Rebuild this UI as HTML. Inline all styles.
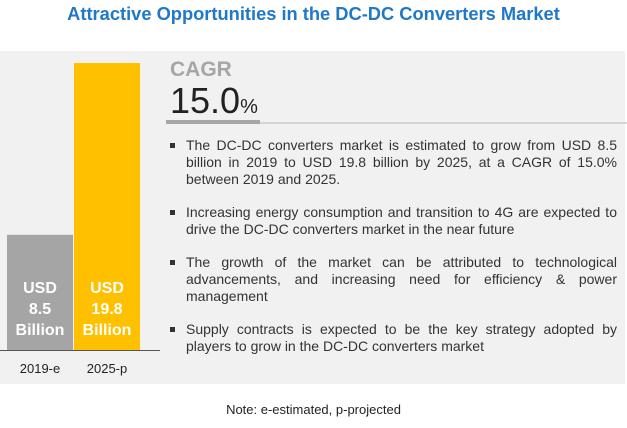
<!DOCTYPE html>
<html><head><meta charset="utf-8"><style>
body{margin:0;width:627px;height:428px;background:#fff;position:relative;overflow:hidden;font-family:"Liberation Sans",sans-serif}
.a{position:absolute}
#title{left:0;width:627px;top:3px;text-align:center;color:#1f78c8;font-weight:bold;font-size:18.3px}
#panel{left:0;top:51px;width:625px;height:333px;background:#f1f1f1}
ul{position:absolute;left:168px;top:137px;width:449px;margin:0;padding:0;list-style:none;font-size:14px;line-height:17px;color:#333;text-align:justify}
li{position:relative;padding-left:18px;margin-bottom:16px}
li::before{content:"";position:absolute;left:2px;top:6px;width:5px;height:5px;background:#333}
</style></head><body>
<div class="a" id="title">Attractive Opportunities in the DC-DC Converters Market</div>
<div class="a" id="panel"></div>
<svg class="a" style="left:0;top:0" width="627" height="428" id="chart"></svg>
<div class="a" style="left:170px;top:58px;font-size:21px;font-weight:bold;color:#a6a6a6">CAGR</div>
<div class="a" style="left:170px;top:80px;font-size:36px;color:#222">15.0<span style="font-size:20px">%</span></div>
<div class="a" style="left:166px;top:122px;width:461px;height:2px;background:#d4d4d4"></div>
<div class="a" style="left:166px;top:120px;width:94px;height:4px;background:#a6a6a6"></div>
<ul>
<li>The DC-DC converters market is estimated to grow from USD 8.5 billion in 2019 to USD 19.8 billion by 2025, at a CAGR of 15.0% between 2019 and 2025.</li>
<li>Increasing energy consumption and transition to 4G are expected to drive the DC-DC converters market in the near future</li>
<li>The growth of the market can be attributed to technological advancements, and increasing need for efficiency &amp; power management</li>
<li>Supply contracts is expected to be the key strategy adopted by players to grow in the DC-DC converters market</li>
</ul>
<div class="a" style="left:0;width:627px;top:402px;text-align:center;font-size:13px;color:#222">Note: e-estimated, p-projected</div>
<script>
const categories=["2019-e","2025-p"];
const values=[8.5,19.8];
const valueLabels=["8.5","19.8"];
const colors=["#a5a5a5","#ffc000"];
const svg=document.getElementById('chart');
const NS="http://www.w3.org/2000/svg";
const base=350;
function yH(v){return v*15.2-14;}
function xL(i){return 7+i*67;}
const bw=66;
function mk(t,a){const e=document.createElementNS(NS,t);for(const k in a)e.setAttribute(k,a[k]);svg.appendChild(e);return e;}
categories.forEach((c,i)=>{
  const h=yH(values[i]);
  const r=mk('rect',{x:xL(i),y:base-h,width:bw,height:h,fill:colors[i]});
  
  
  const lines=["USD",valueLabels[i],"Billion"];
  lines.forEach((s,j)=>{
    const t=mk('text',{x:xL(i)+bw/2,y:293+j*21,'text-anchor':'middle',fill:'#fff','font-size':'16','font-weight':'bold','font-family':'Liberation Sans, sans-serif'});
    t.textContent=s;
    
    
  });
  const l=mk('text',{x:xL(i)+bw/2,y:373,'text-anchor':'middle',fill:'#222','font-size':'13','font-family':'Liberation Sans, sans-serif'});
  l.textContent=c;
  
  
});
const ax=mk('line',{x1:0,x2:160,y1:base+0.5,y2:base+0.5,stroke:'#555','stroke-width':1});


</script>
</body></html>
